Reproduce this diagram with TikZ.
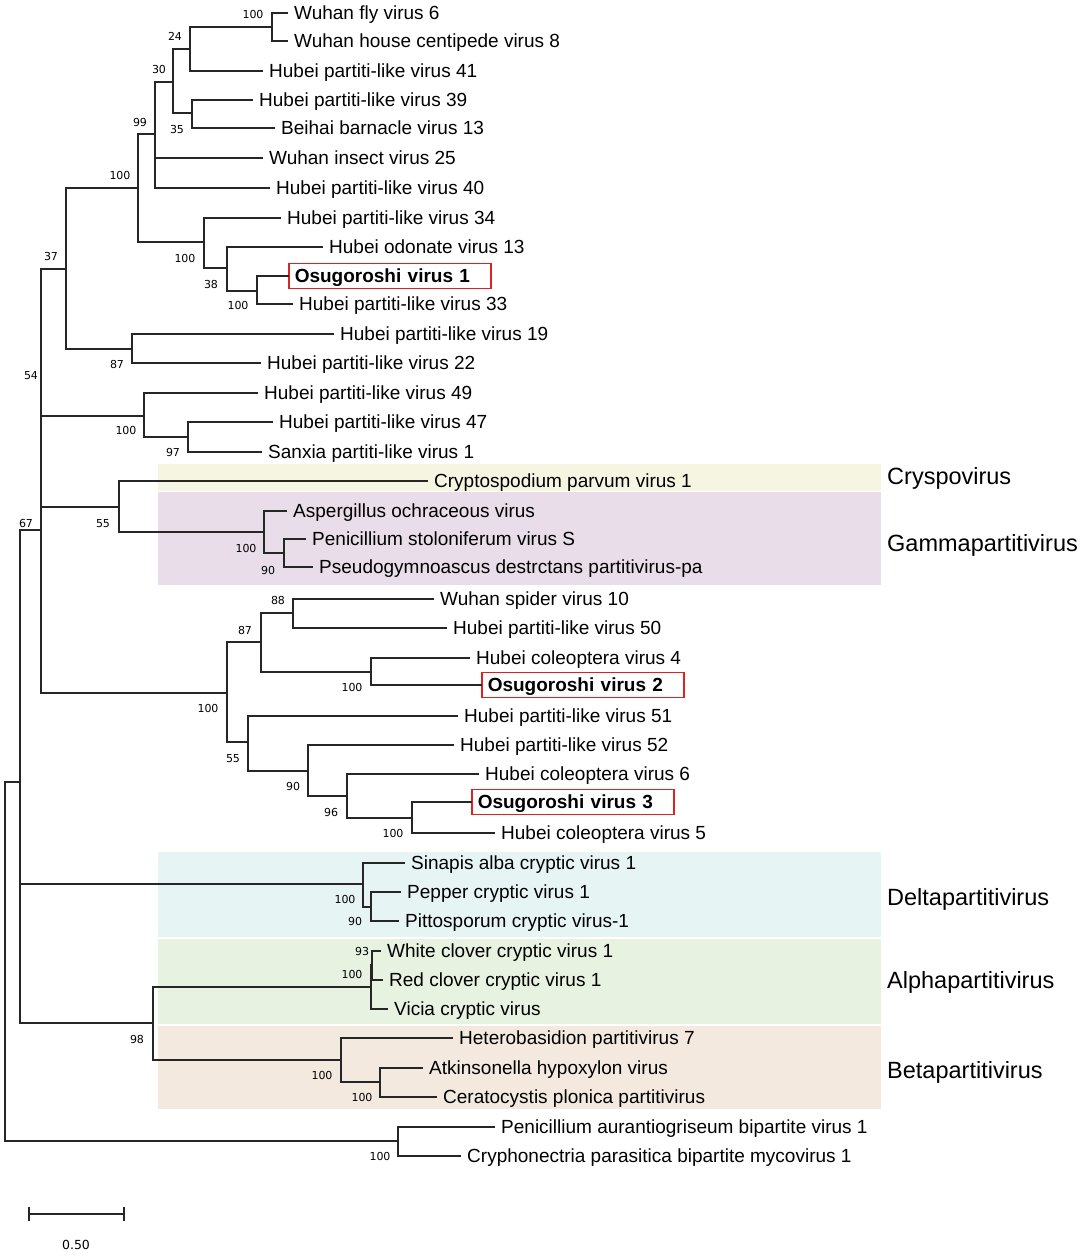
\documentclass[tikz,border=0pt]{standalone}
\usepackage{fontspec}
\setmainfont{Liberation Sans}
\newfontfamily\bsfont{DejaVu Sans}
\definecolor{crypc}{HTML}{F6F5E2}
\definecolor{gammac}{HTML}{E8DDE9}
\definecolor{deltac}{HTML}{E7F4F4}
\definecolor{alphac}{HTML}{E7F2E0}
\definecolor{betac}{HTML}{F3E9DF}
\definecolor{osured}{HTML}{DD2222}
\begin{document}
\begin{tikzpicture}[x=1pt,y=-1pt,
 br/.style={line width=1.3pt, draw=black!85, line cap=rect},
 leaf/.style={anchor=west, inner xsep=7pt, inner ysep=0pt, font=\fontsize{19}{22}\selectfont, text height=13.7pt, text depth=0pt},
 osu/.style={anchor=west, draw=osured, line width=1.5pt, font=\bfseries\fontsize{19}{22}\selectfont, text width=190pt, align=left, inner xsep=6pt, inner ysep=0pt, minimum height=25pt, text height=13.7pt, text depth=0pt},
 bs/.style={font=\bsfont\fontsize{11}{13}\selectfont, inner sep=0pt, text height=8pt, text depth=0pt},
 clade/.style={anchor=west, inner sep=0pt, font=\fontsize{23.5}{26}\selectfont, text height=17pt, text depth=0pt}
]
\useasboundingbox (0,0) rectangle (1084,1256);
\fill[white] (0,0) rectangle (1084,1256);
% bands
\fill[crypc] (158,464) rectangle (881,491);
\fill[gammac] (158,492) rectangle (881,585);
\fill[deltac] (158,852) rectangle (881,937);
\fill[alphac] (158,939) rectangle (881,1024);
\fill[betac] (158,1026) rectangle (881,1109);
% clade labels
\node[clade] (cCry) at (887,476) {Cryspovirus};
\node[clade] (cGam) at (887,543) {Gammapartitivirus};
\node[clade] (cDel) at (887,897) {Deltapartitivirus};
\node[clade] (cAlp) at (887,980) {Alphapartitivirus};
\node[clade] (cBet) at (887,1070) {Betapartitivirus};
% leaves
\node[leaf] (L1) at (287,13) {Wuhan fly virus 6};
\node[leaf] (L2) at (287,41) {Wuhan house centipede virus 8};
\node[leaf] (L3) at (262,71) {Hubei partiti-like virus 41};
\node[leaf] (L4) at (252,100) {Hubei partiti-like virus 39};
\node[leaf] (L5) at (274,128) {Beihai barnacle virus 13};
\node[leaf] (L6) at (262,158) {Wuhan insect virus 25};
\node[leaf] (L7) at (269,188) {Hubei partiti-like virus 40};
\node[leaf] (L8) at (280,218) {Hubei partiti-like virus 34};
\node[leaf] (L9) at (322,247) {Hubei odonate virus 13};
\node[osu] (L10) at (288,276) {Osugoroshi virus 1};
\node[leaf] (L11) at (292,304) {Hubei partiti-like virus 33};
\node[leaf] (L12) at (333,334) {Hubei partiti-like virus 19};
\node[leaf] (L13) at (260,363) {Hubei partiti-like virus 22};
\node[leaf] (L14) at (257,393) {Hubei partiti-like virus 49};
\node[leaf] (L15) at (272,422) {Hubei partiti-like virus 47};
\node[leaf] (L16) at (261,452) {Sanxia partiti-like virus 1};
\node[leaf] (L17) at (427,481) {Cryptospodium parvum virus 1};
\node[leaf] (L18) at (286,511) {Aspergillus ochraceous virus};
\node[leaf] (L19) at (305,539) {Penicillium stoloniferum virus S};
\node[leaf] (L20) at (312,567) {Pseudogymnoascus destrctans partitivirus-pa};
\node[leaf] (L21) at (433,599) {Wuhan spider virus 10};
\node[leaf] (L22) at (446,628) {Hubei partiti-like virus 50};
\node[leaf] (L23) at (469,658) {Hubei coleoptera virus 4};
\node[osu] (L24) at (481,685) {Osugoroshi virus 2};
\node[leaf] (L25) at (457,716) {Hubei partiti-like virus 51};
\node[leaf] (L26) at (453,745) {Hubei partiti-like virus 52};
\node[leaf] (L27) at (478,774) {Hubei coleoptera virus 6};
\node[osu] (L28) at (471,802) {Osugoroshi virus 3};
\node[leaf] (L29) at (494,833) {Hubei coleoptera virus 5};
\node[leaf] (L30) at (404,863) {Sinapis alba cryptic virus 1};
\node[leaf] (L31) at (400,892) {Pepper cryptic virus 1};
\node[leaf] (L32) at (398,921) {Pittosporum cryptic virus-1};
\node[leaf] (L33) at (380,951) {White clover cryptic virus 1};
\node[leaf] (L34) at (382,980) {Red clover cryptic virus 1};
\node[leaf] (L35) at (387,1009) {Vicia cryptic virus};
\node[leaf] (L36) at (452,1038) {Heterobasidion partitivirus 7};
\node[leaf] (L37) at (422,1068) {Atkinsonella hypoxylon virus};
\node[leaf] (L38) at (436,1097) {Ceratocystis plonica partitivirus};
\node[leaf] (L39) at (494,1127) {Penicillium aurantiogriseum bipartite virus 1};
\node[leaf] (L40) at (460,1156) {Cryphonectria parasitica bipartite mycovirus 1};
% internal nodes
\coordinate (nA) at (272,27);
\coordinate (n24) at (190,49);
\coordinate (n35) at (192,113);
\coordinate (n30) at (173,82);
\coordinate (n99) at (155,134);
\coordinate (n100c) at (257,291);
\coordinate (n38) at (227,268);
\coordinate (n100b) at (204,242);
\coordinate (n100a) at (138,188);
\coordinate (n87a) at (132,349);
\coordinate (n37) at (66,269);
\coordinate (n97) at (188,437);
\coordinate (n100d) at (144,416);
\coordinate (n90g) at (284,553);
\coordinate (n100e) at (264,532);
\coordinate (n55a) at (119,507);
\coordinate (n88) at (293,613);
\coordinate (n100g) at (371,672);
\coordinate (n87b) at (261,642);
\coordinate (n100h) at (412,818);
\coordinate (n96) at (347,796);
\coordinate (n90b) at (308,771);
\coordinate (n55b) at (248,742);
\coordinate (n100f) at (227,693);
\coordinate (n54) at (41,530);
\coordinate (n90d) at (371,907);
\coordinate (ndelta) at (363,884);
\coordinate (n93) at (372,965);
\coordinate (nalpha) at (371,987);
\coordinate (n100k) at (380,1082);
\coordinate (nbeta) at (341,1060);
\coordinate (n98) at (153,1023);
\coordinate (n67) at (20,782);
\coordinate (nbip) at (398,1141);
\coordinate (root) at (5,960);
% branches
\draw[br] (nA) |- (L1.west);
\draw[br] (nA) |- (L2.west);
\draw[br] (n24) |- (nA);
\draw[br] (n24) |- (L3.west);
\draw[br] (n35) |- (L4.west);
\draw[br] (n35) |- (L5.west);
\draw[br] (n30) |- (n24);
\draw[br] (n30) |- (n35);
\draw[br] (n99) |- (n30);
\draw[br] (n99) |- (L6.west);
\draw[br] (n99) |- (L7.west);
\draw[br] (n100c) |- (L10.west);
\draw[br] (n100c) |- (L11.west);
\draw[br] (n38) |- (L9.west);
\draw[br] (n38) |- (n100c);
\draw[br] (n100b) |- (L8.west);
\draw[br] (n100b) |- (n38);
\draw[br] (n100a) |- (n99);
\draw[br] (n100a) |- (n100b);
\draw[br] (n87a) |- (L12.west);
\draw[br] (n87a) |- (L13.west);
\draw[br] (n37) |- (n100a);
\draw[br] (n37) |- (n87a);
\draw[br] (n97) |- (L15.west);
\draw[br] (n97) |- (L16.west);
\draw[br] (n100d) |- (L14.west);
\draw[br] (n100d) |- (n97);
\draw[br] (n90g) |- (L19.west);
\draw[br] (n90g) |- (L20.west);
\draw[br] (n100e) |- (L18.west);
\draw[br] (n100e) |- (n90g);
\draw[br] (n55a) |- (L17.west);
\draw[br] (n55a) |- (n100e);
\draw[br] (n88) |- (L21.west);
\draw[br] (n88) |- (L22.west);
\draw[br] (n100g) |- (L23.west);
\draw[br] (n100g) |- (L24.west);
\draw[br] (n87b) |- (n88);
\draw[br] (n87b) |- (n100g);
\draw[br] (n100h) |- (L28.west);
\draw[br] (n100h) |- (L29.west);
\draw[br] (n96) |- (L27.west);
\draw[br] (n96) |- (n100h);
\draw[br] (n90b) |- (L26.west);
\draw[br] (n90b) |- (n96);
\draw[br] (n55b) |- (L25.west);
\draw[br] (n55b) |- (n90b);
\draw[br] (n100f) |- (n87b);
\draw[br] (n100f) |- (n55b);
\draw[br] (n54) |- (n37);
\draw[br] (n54) |- (n100d);
\draw[br] (n54) |- (n55a);
\draw[br] (n54) |- (n100f);
\draw[br] (n90d) |- (L31.west);
\draw[br] (n90d) |- (L32.west);
\draw[br] (ndelta) |- (L30.west);
\draw[br] (ndelta) |- (n90d);
\draw[br] (n93) |- (L33.west);
\draw[br] (n93) |- (L34.west);
\draw[br] (nalpha) |- (n93);
\draw[br] (nalpha) |- (L35.west);
\draw[br] (n100k) |- (L37.west);
\draw[br] (n100k) |- (L38.west);
\draw[br] (nbeta) |- (L36.west);
\draw[br] (nbeta) |- (n100k);
\draw[br] (n98) |- (nalpha);
\draw[br] (n98) |- (nbeta);
\draw[br] (n67) |- (n54);
\draw[br] (n67) |- (ndelta);
\draw[br] (n67) |- (n98);
\draw[br] (nbip) |- (L39.west);
\draw[br] (nbip) |- (L40.west);
\draw[br] (root) |- (n67);
\draw[br] (root) |- (nbip);
% bootstrap values
\node[bs] (bA) at (253,14) {100};
\node[bs] (b24) at (175,36) {24};
\node[bs] (b30) at (159,69) {30};
\node[bs] (b35) at (177,129) {35};
\node[bs] (b99) at (140,122) {99};
\node[bs] (b100a) at (120,175) {100};
\node[bs] (b100b) at (185,258) {100};
\node[bs] (b38) at (211,284) {38};
\node[bs] (b100c) at (238,305) {100};
\node[bs] (b37) at (51,256) {37};
\node[bs] (b87a) at (117,364) {87};
\node[bs] (b54) at (31,375) {54};
\node[bs] (b100d) at (126,430) {100};
\node[bs] (b97) at (173,452) {97};
\node[bs] (b67) at (26,523) {67};
\node[bs] (b55a) at (103,523) {55};
\node[bs] (b100e) at (246,548) {100};
\node[bs] (b90g) at (268,570) {90};
\node[bs] (b88) at (278,600) {88};
\node[bs] (b87b) at (245,630) {87};
\node[bs] (b100g) at (352,687) {100};
\node[bs] (b100f) at (208,708) {100};
\node[bs] (b55b) at (233,758) {55};
\node[bs] (b90b) at (293,786) {90};
\node[bs] (b96) at (331,812) {96};
\node[bs] (b100h) at (393,833) {100};
\node[bs] (bdelta) at (345,899) {100};
\node[bs] (b90d) at (355,921) {90};
\node[bs] (b93) at (362,951) {93};
\node[bs] (balpha) at (352,974) {100};
\node[bs] (b98) at (137,1039) {98};
\node[bs] (bbeta) at (322,1075) {100};
\node[bs] (b100k) at (362,1097) {100};
\node[bs] (bbip) at (380,1156) {100};
% scale bar
\coordinate (sb1) at (29,1214);
\coordinate (sb2) at (124,1214);
\draw[br,line width=1.2pt,line cap=butt] (sb1) -- (sb2);
\draw[br,line width=1.2pt,line cap=butt] ([yshift=-7pt]sb1) -- ([yshift=7pt]sb1);
\draw[br,line width=1.2pt,line cap=butt] ([yshift=-7pt]sb2) -- ([yshift=7pt]sb2);
\node[font=\bsfont\fontsize{12.5}{14}\selectfont, inner sep=0pt, text height=9pt, text depth=0pt] (sblab) at (76,1245) {0.50};
\end{tikzpicture}
\end{document}
